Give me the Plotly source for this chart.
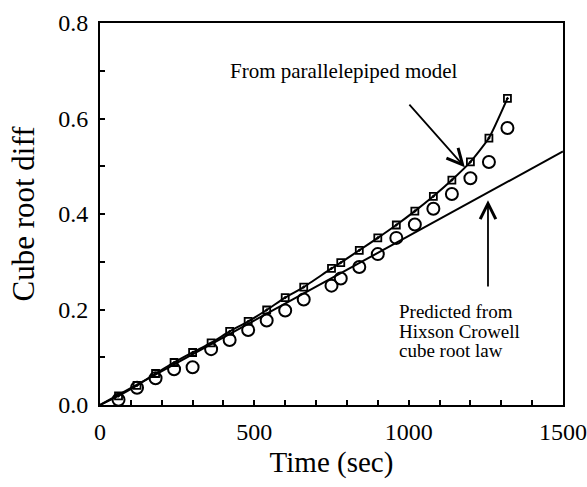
import plotly.graph_objects as go

# Data
time_s = [60, 120, 180, 240, 300, 360, 420, 480, 540, 600, 660, 750, 780,
          840, 900, 960, 1020, 1080, 1140, 1200, 1260, 1320]
model_vals = [0.019, 0.041, 0.066, 0.089, 0.110, 0.130, 0.154, 0.175, 0.199,
              0.225, 0.247, 0.286, 0.298, 0.324, 0.350, 0.377, 0.406, 0.437,
              0.471, 0.509, 0.559, 0.642]
exp_vals = [0.011, 0.036, 0.056, 0.075, 0.079, 0.117, 0.136, 0.157, 0.177,
            0.198, 0.221, 0.250, 0.265, 0.289, 0.316, 0.350, 0.378, 0.411,
            0.442, 0.475, 0.509, 0.580]
origin_t = [0]
origin_v = [0.0]
hc_time = [0, 1500]
hc_vals = [0.0, 0.531]

x_ticks = [0, 500, 1000, 1500]
y_ticks = [0.0, 0.2, 0.4, 0.6, 0.8]

FONT = "Liberation Serif"

fig = go.Figure()

# Hixson Crowell straight line
fig.add_trace(go.Scatter(x=hc_time, y=hc_vals, mode="lines",
                         line=dict(color="black", width=2), showlegend=False))
# Parallelepiped model curve
fig.add_trace(go.Scatter(x=origin_t + time_s, y=origin_v + model_vals, mode="lines",
                         line=dict(color="black", width=2, shape="spline", smoothing=0.5),
                         showlegend=False))
# Model markers
fig.add_trace(go.Scatter(x=time_s, y=model_vals, mode="markers",
                         marker=dict(symbol="square-open-dot", size=7, color="black",
                                     line=dict(width=1.8, color="black")),
                         showlegend=False))
# Experimental circles
fig.add_trace(go.Scatter(x=time_s, y=exp_vals, mode="markers",
                         marker=dict(symbol="circle-open", size=12, color="black",
                                     line=dict(width=2, color="black")),
                         showlegend=False))

fig.add_annotation(x=1182, y=0.498, ax=998, ay=0.632, xref="x", yref="y",
                   axref="x", ayref="y", text="", showarrow=True,
                   arrowhead=5, arrowsize=1.7, arrowwidth=1.8, arrowcolor="black")
fig.add_annotation(x=1257, y=0.429, ax=1257, ay=0.245, xref="x", yref="y",
                   axref="x", ayref="y", text="", showarrow=True,
                   arrowhead=5, arrowsize=1.7, arrowwidth=1.8, arrowcolor="black")

fig.add_annotation(x=790, y=0.70, xref="x", yref="y", text="From parallelepiped model",
                   showarrow=False, font=dict(family=FONT, size=21, color="black"))
for i, line in enumerate(["Predicted from", "Hixson Crowell", "cube root law"]):
    fig.add_annotation(x=962, y=0.195, yshift=-19.5 * i, xref="x", yref="y", text=line,
                       showarrow=False, xanchor="left",
                       font=dict(family=FONT, size=19, color="black"))

fig.update_layout(
    width=587, height=487,
    margin=dict(l=100, r=24, t=23, b=82),
    paper_bgcolor="white", plot_bgcolor="white",
    font=dict(family=FONT, color="black"),
    xaxis=dict(range=[0, 1500], tickvals=x_ticks, ticks="inside", ticklen=5,
               tickwidth=2, tickcolor="black", automargin=False,
               minor=dict(dtick=100, ticks="inside", ticklen=5, tickwidth=2,
                          tickcolor="black"),
               showline=True, linewidth=2, linecolor="black", mirror=True,
               showgrid=False, zeroline=False,
               tickfont=dict(family=FONT, size=24, color="black"),
               ticklabelstandoff=4,
               title=dict(text="Time (sec)", standoff=8,
                          font=dict(family=FONT, size=29, color="black"))),
    yaxis=dict(range=[0, 0.8], tickvals=y_ticks, tickformat=".1f", ticks="inside",
               ticklen=5, tickwidth=2, tickcolor="black", automargin=False,
               minor=dict(dtick=0.1, ticks="inside", ticklen=5, tickwidth=2,
                          tickcolor="black"),
               showline=True, linewidth=2, linecolor="black", mirror=True,
               showgrid=False, zeroline=False,
               tickfont=dict(family=FONT, size=24, color="black"),
               ticklabelstandoff=5,
               title=dict(text="Cube root diff", standoff=14,
                          font=dict(family=FONT, size=31, color="black"))),
)

fig.write_html("out.html")
